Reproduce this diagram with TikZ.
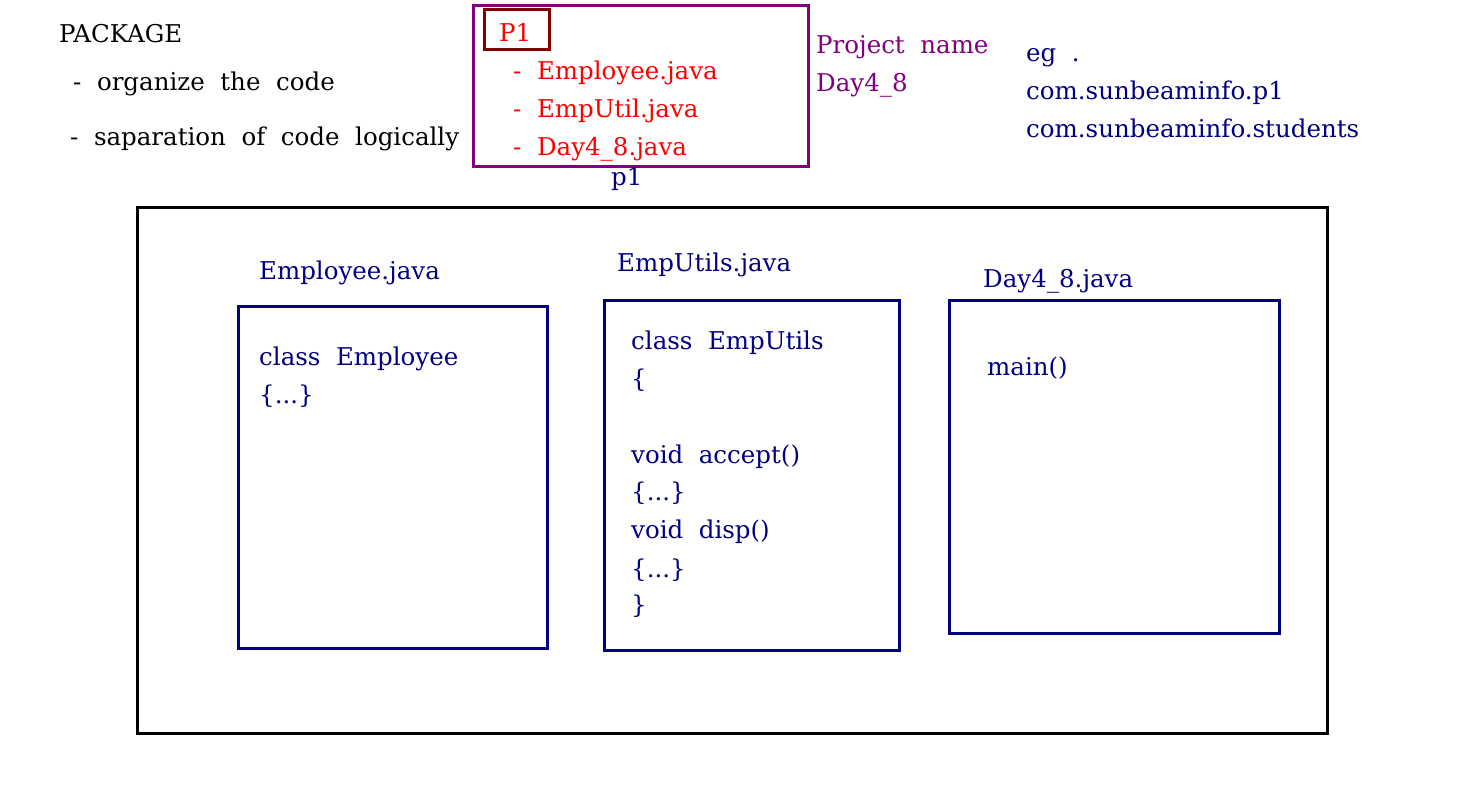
\documentclass[tikz,border=0pt]{standalone}
\usepackage{fontspec}
\setmainfont{DejaVu Serif}
\usepackage{xcolor}
\usetikzlibrary{positioning}
\definecolor{navyblue}{HTML}{000080}
\definecolor{projpurple}{HTML}{800080}
\definecolor{darkred}{HTML}{800000}

\begin{document}
\begin{tikzpicture}[x=1pt, y=-1pt,
  every node/.style={font=\fontsize{24.5}{29}\selectfont, inner sep=0pt, anchor=base west},
  txt/.style={text=black},
  lst/.style={text=red},
  note/.style={text=projpurple},
  code/.style={text=navyblue},
  filebox/.style={draw=navyblue, line width=3pt},
  pkgbox/.style={draw=black, line width=3pt}
]
  \useasboundingbox (0,0) rectangle (1481,794);

  % Heading notes
  \node[txt] (pkg)   at (59, 43)  {PACKAGE};
  \node[txt] (org)   at (73, 91)  {-\ \ organize\ \ the\ \ code};
  \node[txt] (sep)   at (70, 146) {-\ \ saparation\ \ of\ \ code\ \ logically};

  % Project tree
  \draw[draw=projpurple, line width=3pt] (473,6) rectangle (808,167);
  \draw[draw=darkred, line width=3pt] (484,10) rectangle (549,50);
  \node[lst] (pone)  at (499, 42)  {P1};
  \node[lst] (lemp)  at (513, 80)  {-\ \ Employee.java};
  \node[lst] (lutil) at (513, 118) {-\ \ EmpUtil.java};
  \node[lst] (lday)  at (513, 156) {-\ \ Day4\_8.java};
  \node[code] (pname) at (611, 186) {p1};

  \node[note] (proj)  at (816, 54) {Project\ \ name};
  \node[note] (day)   at (816, 92) {Day4\_8};

  \node[code] (eg)    at (1026, 62)  {eg\ \ .};
  \node[code] (egone) at (1026, 100) {com.sunbeaminfo.p1};
  \node[code] (egtwo) at (1026, 138) {com.sunbeaminfo.students};

  % Package p1
  \draw[pkgbox] (137,208) rectangle (1327,733);

  % Employee.java
  \node[code] (fone) at (259, 280) {Employee.java};
  \draw[filebox] (238,307) rectangle (547,648);
  \node[code] (cone)  at (259, 366) {class\ \ Employee};
  \node[code] (bone)  at (259, 403) {\{...\}};

  % EmpUtils.java
  \node[code] (ftwo) at (617, 272) {EmpUtils.java};
  \draw[filebox] (604,301) rectangle (899,650);
  \node[code] (ctwo)  at (631, 349) {class\ \ EmpUtils};
  \node[code] (otwo)  at (631, 387) {\{};
  \node[code] (acc)   at (631, 463) {void\ \ accept()};
  \node[code] (bacc)  at (631, 500) {\{...\}};
  \node[code] (disp)  at (631, 538) {void\ \ disp()};
  \node[code] (bdisp) at (631, 577) {\{...\}};
  \node[code] (etwo)  at (631, 613) {\}};

  % Day4_8.java
  \node[code] (fthree) at (983, 288) {Day4\_8.java};
  \draw[filebox] (949,301) rectangle (1279,633);
  \node[code] (mainm)  at (987, 375) {main()};
\end{tikzpicture}
\end{document}
